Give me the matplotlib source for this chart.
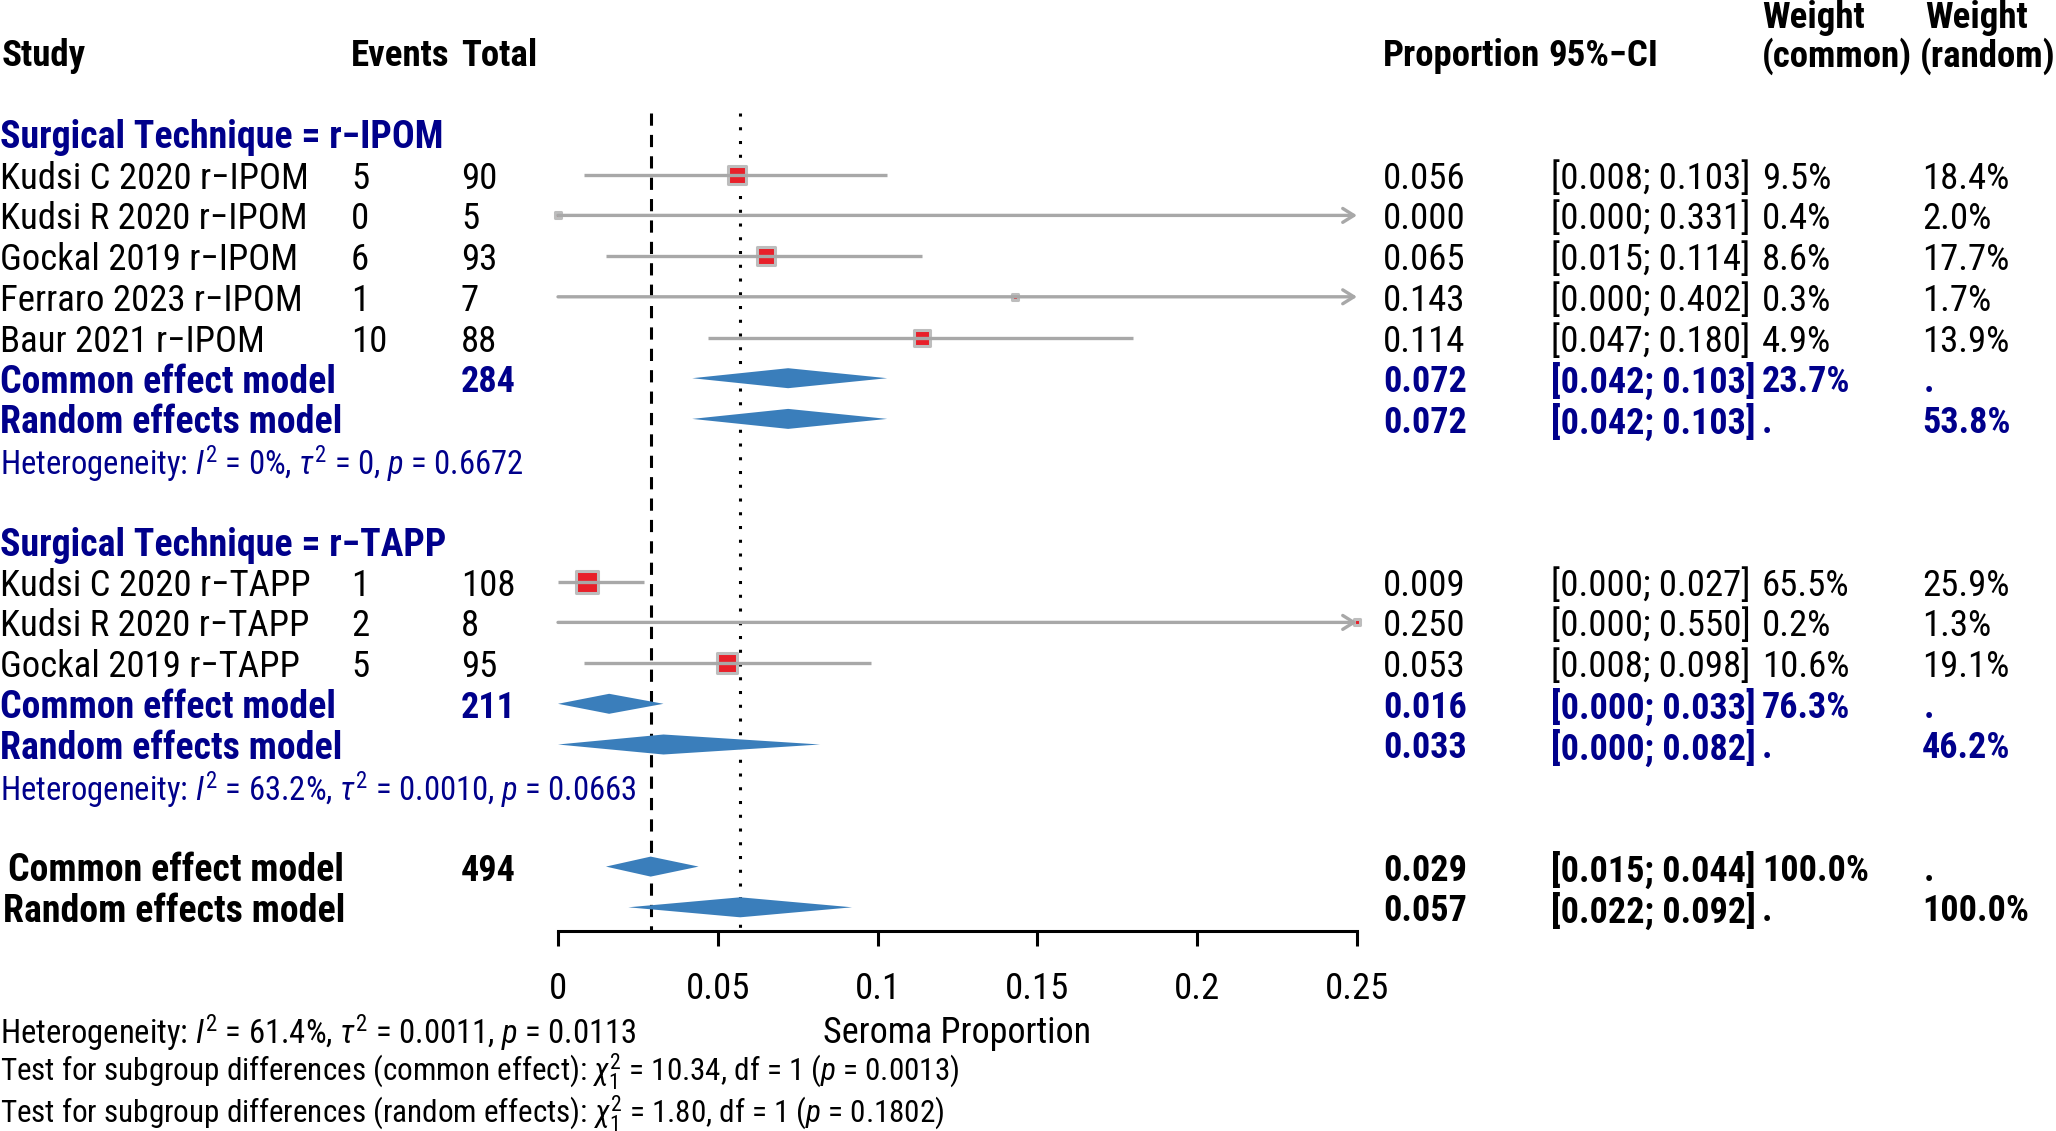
import matplotlib
matplotlib.use("Agg")
import matplotlib.pyplot as plt
import numpy as np

plt.rcParams['font.family'] = ['Roboto Condensed', 'Liberation Sans', 'DejaVu Sans']
plt.rcParams['mathtext.fontset'] = 'custom'
plt.rcParams['mathtext.rm'] = 'Roboto Condensed'
plt.rcParams['mathtext.it'] = 'Roboto Condensed:italic'
plt.rcParams['mathtext.bf'] = 'Roboto Condensed:bold'

# 数据: r-IPOM 组
ipom_study = ["Kudsi C 2020 r\u2212IPOM", "Kudsi R 2020 r\u2212IPOM", "Gockal 2019 r\u2212IPOM",
              "Ferraro 2023 r\u2212IPOM", "Baur 2021 r\u2212IPOM"]
ipom_events = [5, 0, 6, 1, 10]
ipom_total = [90, 5, 93, 7, 88]
ipom_prop = [0.056, 0.000, 0.065, 0.143, 0.114]
ipom_lo = [0.008, 0.000, 0.015, 0.000, 0.047]
ipom_hi = [0.103, 0.331, 0.114, 0.402, 0.180]
ipom_wc = [9.5, 0.4, 8.6, 0.3, 4.9]
ipom_wr = [18.4, 2.0, 17.7, 1.7, 13.9]

# 数据: r-TAPP 组
tapp_study = ["Kudsi C 2020 r\u2212TAPP", "Kudsi R 2020 r\u2212TAPP", "Gockal 2019 r\u2212TAPP"]
tapp_events = [1, 2, 5]
tapp_total = [108, 8, 95]
tapp_prop = [0.009, 0.250, 0.053]
tapp_lo = [0.000, 0.000, 0.008]
tapp_hi = [0.027, 0.550, 0.098]
tapp_wc = [65.5, 0.2, 10.6]
tapp_wr = [25.9, 1.3, 19.1]

# 汇总结果: (估计, 下限, 上限)
ipom_common = (0.072, 0.042, 0.103)
ipom_random = (0.072, 0.042, 0.103)
tapp_common = (0.016, 0.000, 0.033)
tapp_random = (0.033, 0.000, 0.082)
all_common = (0.029, 0.015, 0.044)
all_random = (0.057, 0.022, 0.092)
ipom_n, tapp_n, all_n = 284, 211, 494
ipom_wsum = ("23.7%", "53.8%")
tapp_wsum = ("76.3%", "46.2%")

xticks = [0, 0.05, 0.1, 0.15, 0.2, 0.25]
xticklabels = ["0", "0.05", "0.1", "0.15", "0.2", "0.25"]

W, H = 2056, 1131
BLUE = "#00008B"
GRAY = "#A8A8A8"
DIAM = "#3A7EBB"
FS = 26.5     # 普通文字
FS_B = 26     # 粗体数字
FS_L = 27.3   # 粗体标签
FS_H = 26.6   # 表头
FS_S = 23.5
FS_T = 22.4
DY = 4  # 文字竖直微调

fig = plt.figure(figsize=(W / 100, H / 100), dpi=100)
tx = fig.add_axes([0, 0, 1, 1])
tx.set_xlim(0, W)
tx.set_ylim(H, 0)
tx.axis("off")

x0, x1 = 558, 1357
ax = fig.add_axes([x0 / W, 0, (x1 - x0) / W, 1])
ax.set_xlim(0, 0.25)
ax.set_ylim(H, 0)
ax.patch.set_alpha(0)
for s in ["top", "left", "right"]:
    ax.spines[s].set_visible(False)
ax.spines["bottom"].set_position(("data", 931))
ax.spines["bottom"].set_bounds(0, 0.25)
ax.spines["bottom"].set_linewidth(2.2)
ax.set_yticks([])
ax.set_xticks(xticks)
ax.set_xticklabels(xticklabels, fontsize=FS)
ax.tick_params(axis="x", direction="out", length=11, width=2.2, pad=18)


def row(k):
    return 134 + 40.7 * k


# 列位置
C_EV, C_TOT, C_PROP, C_CI, C_WC, C_WR = 351, 461, 1383, 1551, 1762, 1922


def txt(x, y, s, color="black", bold=False, size=None):
    if size is None:
        size = FS_B if bold else FS
    tx.text(x, y + DY, s, color=color, fontsize=size, va="center", ha="left",
            fontweight="bold" if bold else "normal")


# 表头
txt(2, 52, "Study", bold=True, size=FS_H)
txt(C_EV, 52, "Events", bold=True, size=FS_H)
txt(C_TOT, 52, "Total", bold=True, size=FS_H)
txt(C_PROP, 52, "Proportion", bold=True, size=FS_H)
txt(1548, 52, "95%\u2212CI", bold=True, size=FS_H)
txt(C_WC, 14, "Weight", bold=True, size=FS_H)
txt(C_WC, 52, "(common)", bold=True, size=FS_H)
txt(1925, 14, "Weight", bold=True, size=FS_H)
txt(1920, 52, "(random)", bold=True, size=FS_H)

# 参考线
ax.vlines(all_common[0], 113, 931, colors="black", linestyles=(0, (4, 3)), lw=2.2)
ax.vlines(all_random[0], 113, 931, colors="black", linestyles=(0, (1, 3.5)), lw=2.2)


def study_rows(k0, names, ev, tot, prop, lo, hi, wc, wr):
    for i in range(len(names)):
        y = row(k0 + i)
        txt(0, y, names[i])
        txt(C_EV, y, str(ev[i]))
        txt(C_TOT, y, str(tot[i]))
        txt(C_PROP, y, "%.3f" % prop[i])
        txt(C_CI, y, "[%.3f; %.3f]" % (lo[i], hi[i]))
        txt(C_WC, y, "%.1f%%" % wc[i])
        txt(C_WR, y, "%.1f%%" % wr[i])
        side = 4.4 * np.sqrt(wr[i]) * 0.72
        ax.scatter([prop[i]], [y], marker="s", s=side ** 2, facecolor="#E8202A",
                   edgecolor="#BDBDBD", linewidth=2.2, zorder=3, clip_on=False)
        if hi[i] > 0.25:
            ax.annotate("", xy=(0.25, y), xytext=(lo[i], y),
                        arrowprops=dict(arrowstyle="->,head_length=0.8,head_width=0.5",
                                        color=GRAY, lw=2.4, shrinkA=0, shrinkB=0),
                        zorder=4, annotation_clip=False)
        else:
            ax.plot([lo[i], hi[i]], [y, y], color=GRAY, lw=2.4, zorder=4,
                    solid_capstyle="butt", clip_on=False)


def diamond(est, y, color=DIAM, h=10):
    ax.fill([est[1], est[0], est[2], est[0]], [y, y - h, y, y + h],
            color=color, zorder=3, clip_on=False, lw=0)


def summary_rows(k, est_c, est_r, n, wsum, color, label_x=(0, 0)):
    yc, yr = row(k), row(k + 1)
    txt(label_x[0], yc, "Common effect model", color=color, bold=True, size=FS_L)
    txt(C_TOT, yc, str(n), color=color, bold=True)
    txt(C_PROP, yc, "%.3f" % est_c[0], color=color, bold=True)
    txt(C_CI, yc, "[%.3f; %.3f]" % (est_c[1], est_c[2]), color=color, bold=True)
    txt(C_WC, yc, wsum[0], color=color, bold=True)
    txt(C_WR + 2, yc, ".", color=color, bold=True)
    txt(label_x[1], yr, "Random effects model", color=color, bold=True, size=FS_L)
    txt(C_PROP, yr, "%.3f" % est_r[0], color=color, bold=True)
    txt(C_CI, yr, "[%.3f; %.3f]" % (est_r[1], est_r[2]), color=color, bold=True)
    txt(C_WC, yr, ".", color=color, bold=True)
    txt(C_WR, yr, wsum[1], color=color, bold=True)
    diamond(est_c, yc)
    diamond(est_r, yr)


# r-IPOM
txt(0, row(0), "Surgical Technique = r\u2212IPOM", color=BLUE, bold=True, size=FS_L)
study_rows(1, ipom_study, ipom_events, ipom_total, ipom_prop, ipom_lo, ipom_hi, ipom_wc, ipom_wr)
summary_rows(6, ipom_common, ipom_random, ipom_n, ipom_wsum, BLUE)
txt(0, row(8), r"Heterogeneity: $I^2$ = 0%, $\tau^2$ = 0, $p$ = 0.6672", color=BLUE, size=FS_S)

# r-TAPP
txt(0, row(10), "Surgical Technique = r\u2212TAPP", color=BLUE, bold=True, size=FS_L)
study_rows(11, tapp_study, tapp_events, tapp_total, tapp_prop, tapp_lo, tapp_hi, tapp_wc, tapp_wr)
summary_rows(14, tapp_common, tapp_random, tapp_n, tapp_wsum, BLUE)
txt(0, row(16), r"Heterogeneity: $I^2$ = 63.2%, $\tau^2$ = 0.0010, $p$ = 0.0663", color=BLUE, size=FS_S)

# 总体
summary_rows(18, all_common, all_random, all_n, ("100.0%", "100.0%"), "black", label_x=(8, 3))

# 底部说明
ax.set_xlabel("Seroma Proportion", fontsize=FS - 0.5)
ax.xaxis.set_label_coords(0.5, 1 - (1029 + DY) / H, transform=ax.transAxes)
ax.xaxis.label.set_va("center")
txt(0, 1029, r"Heterogeneity: $I^2$ = 61.4%, $\tau^2$ = 0.0011, $p$ = 0.0113", size=FS_S)
txt(0, 1068, r"Test for subgroup differences (common effect): $\chi^2_1$ = 10.34, df = 1 ($p$ = 0.0013)", size=FS_T)
txt(0, 1110, r"Test for subgroup differences (random effects): $\chi^2_1$ = 1.80, df = 1 ($p$ = 0.1802)", size=FS_T)

fig.savefig("out.png", dpi=100)
